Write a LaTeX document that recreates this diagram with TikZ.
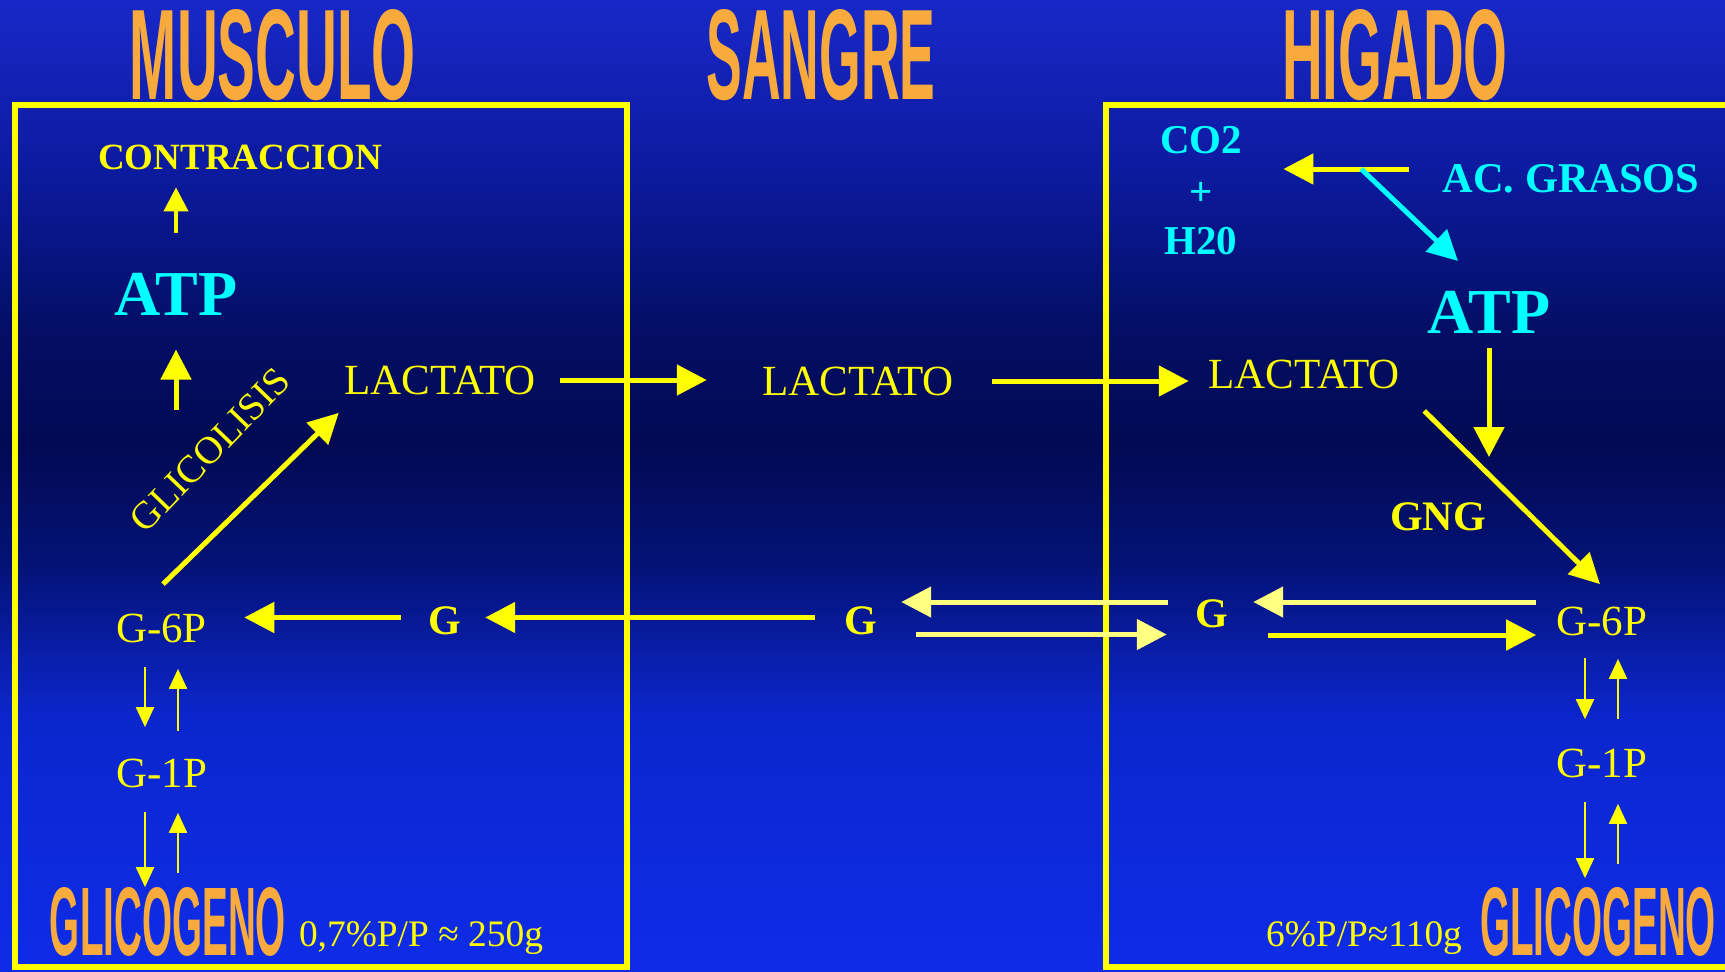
\documentclass[tikz,border=0pt]{standalone}
\usepackage{graphicx}
\usepackage{fontspec}
\setmainfont{Liberation Serif}
\newfontfamily\hdrfont{Liberation Sans}
\usetikzlibrary{arrows.meta,positioning}

\definecolor{bgtop}{RGB}{24,40,200}
\definecolor{bghigh}{RGB}{12,26,158}
\definecolor{bgupper}{RGB}{3,14,100}
\definecolor{bgmid}{RGB}{2,10,84}
\definecolor{bglower}{RGB}{4,18,118}
\definecolor{bglow}{RGB}{12,38,205}
\definecolor{bgbot}{RGB}{14,44,232}
\definecolor{amar}{RGB}{255,255,0}
\definecolor{amarclaro}{RGB}{255,255,128}
\definecolor{cian}{RGB}{0,255,255}
\definecolor{naranja}{RGB}{248,170,60}

\pgfdeclareverticalshading{fondo}{100bp}{color(0bp)=(bgbot); color(25bp)=(bgbot);
  color(38bp)=(bglow); color(46bp)=(bglower); color(52bp)=(bgmid); color(58bp)=(bgupper);
  color(66bp)=(bghigh); color(75bp)=(bgtop); color(100bp)=(bgtop)}

\begin{document}
\begin{tikzpicture}[x=0.5pt,y=-0.5pt,
  txt/.style={text=amar, inner sep=0pt, font=\fontsize{21.5pt}{24pt}\selectfont},
  btxt/.style={text=amar, inner sep=0pt, font=\fontsize{21pt}{24pt}\selectfont\bfseries},
  ctxt/.style={text=cian, inner sep=0pt, font=\fontsize{20.5pt}{24pt}\selectfont\bfseries},
  atp/.style={text=cian, inner sep=0pt, font=\fontsize{32pt}{36pt}\selectfont\bfseries},
  nota/.style={text=amar, inner sep=0pt, font=\fontsize{18.7pt}{22pt}\selectfont},
  titulo/.style={text=naranja, inner sep=0pt, font=\hdrfont\bfseries},
  organo/.style={draw=amar, line width=3pt},
  arr/.style={-{Triangle[length=15pt,width=15pt]}, line width=2.5pt, amar},
  sarr/.style={-{Triangle[length=12pt,width=12pt]}, line width=2pt, amar},
  tarr/.style={-{Triangle[length=10pt,width=9pt]}, line width=1pt, amar},
  carr/.style={arr, cian},
  larr/.style={arr, amarclaro}
]
\clip (0,0) rectangle (1725,971);
\shade[shading=fondo] (0,0) rectangle (1725,971);

\draw[organo] (15,105) rectangle (627,967);
\draw[organo] (1106,105) rectangle (1760,967);

\node[titulo] (musc) at (273,55) {\resizebox{143pt}{45pt}{MUSCULO}};
\node[titulo] (sang) at (821,55) {\resizebox{114.5pt}{45pt}{SANGRE}};
\node[titulo] (higa) at (1395,55) {\resizebox{112.75pt}{45pt}{HIGADO}};

% musculo
\node[btxt, font=\fontsize{18.5pt}{22pt}\selectfont\bfseries] (contr) at (240,157) {CONTRACCION};
\node[atp] (atpM) at (176,294) {ATP};
\node[txt, rotate=46, font=\fontsize{19.4pt}{22pt}\selectfont] (glic) at (210,450) {GLICOLISIS};
\node[txt] (lacM) at (440,380) {LACTATO};
\node[txt] (g6pM) at (161.5,628) {G-6P};
\node[btxt] (gM) at (445,621) {G};
\node[txt] (g1pM) at (162,773) {G-1P};
\node[titulo] (glM) at (168,922) {\resizebox{118pt}{34pt}{GLICOGENO}};
\node[nota] (pctM) at (421,938) {0,7\%P/P ≈ 250g};
\coordinate (glyATP) at (176,410);

% sangre
\node[txt] (lacS) at (858,381) {LACTATO};
\node[btxt] (gS) at (861,621) {G};

% higado
\node[ctxt] (co2) at (1201,140) {CO2};
\node[ctxt] (mas) at (1201,194) {+};
\node[ctxt] (h2o) at (1201,241) {H20};
\node[ctxt, font=\fontsize{21.2pt}{24pt}\selectfont\bfseries] (acg) at (1571,179) {AC. GRASOS};
\node[atp] (atpH) at (1489,312) {ATP};
\node[txt] (lacH) at (1304,374) {LACTATO};
\node[btxt] (gng) at (1438,517) {GNG};
\node[btxt] (gH) at (1212,614) {G};
\node[txt] (g6pH) at (1602,621) {G-6P};
\node[txt] (g1pH) at (1602,763) {G-1P};
\node[titulo] (glH) at (1598,922) {\resizebox{118pt}{34pt}{GLICOGENO}};
\node[nota] (pctH) at (1364,938) {6\%P/P≈110g};
\coordinate (rama) at ([xshift=-40.5pt,yshift=5pt]acg.west);
\coordinate (gngIn) at (1489,457);

\draw[sarr, shorten <=19.75pt, shorten >=8.75pt] (atpM.north) -- (atpM.north |- contr.south);
\draw[arr, shorten >=17pt] (glyATP) -- (atpM.south);
\draw[arr] ([xshift=0.75pt,yshift=14.5pt]g6pM.north) -- ([xshift=-2.5pt,yshift=-9pt]lacM.south west);

\draw[arr, shorten <=12pt, shorten >=27.5pt] (lacM.east) -- (lacM.east -| lacS.west);
\draw[arr, shorten <=19pt, shorten >=9.5pt] (lacS.east) -- (lacS.east -| lacH.west);

\draw[arr, shorten <=14.75pt, shorten >=11.75pt] ([yshift=1.75pt]gS.west) -- ([yshift=1.75pt]gM.east);
\draw[arr, shorten <=13.75pt, shorten >=18.5pt] ([yshift=1.75pt]gM.west) -- ([yshift=1.75pt]gM.west -| g6pM.east);
\draw[larr, shorten <=13.75pt, shorten >=11.75pt] ([yshift=6pt]gH.west) -- ([yshift=6pt]gH.west -| gS.east);
\draw[larr, shorten <=19.25pt, shorten >=14.25pt] ([yshift=-6.75pt]gS.east) -- ([yshift=-6.75pt]gS.east -| gH.west);
\draw[larr, shorten <=10pt, shorten >=12.25pt] ([yshift=9.5pt]g6pH.west) -- ([yshift=9.5pt]g6pH.west -| gH.east);
\draw[arr, shorten <=19.75pt, shorten >=10pt] ([yshift=-10.5pt]gH.east) -- ([yshift=-10.5pt]gH.east -| g6pH.west);

\draw[tarr, shorten <=12pt, shorten >=15.5pt] ([xshift=-8.25pt]g6pM.south) -- ([xshift=-8.25pt]g6pM.south |- g1pM.north);
\draw[tarr, shorten <=13.5pt, shorten >=13pt] ([xshift=8.25pt]g6pM.south |- g1pM.north) -- ([xshift=8.25pt]g6pM.south);
\draw[tarr, shorten <=12pt] ([xshift=-8.5pt]g1pM.south) -- ([xshift=-8.5pt]g1pM.south |- glM.north);
\draw[tarr, shorten <=7pt, shorten >=12.5pt] ([xshift=8pt]g1pM.south |- glM.north) -- ([xshift=8pt]g1pM.south);

\draw[tarr, shorten <=11pt, shorten >=14.5pt] ([xshift=-8.5pt]g6pH.south) -- ([xshift=-8.5pt]g6pH.south |- g1pH.north);
\draw[tarr, shorten <=14.5pt, shorten >=11.5pt] ([xshift=8pt]g6pH.south |- g1pH.north) -- ([xshift=8pt]g6pH.south);
\draw[tarr, shorten <=12pt, shorten >=4.5pt] ([xshift=-8.5pt]g1pH.south) -- ([xshift=-8.5pt]g1pH.south |- glH.north);
\draw[tarr, shorten <=11.5pt, shorten >=13pt] ([xshift=8pt]g1pH.south |- glH.north) -- ([xshift=8pt]g1pH.south);

\draw[arr, shorten <=16.5pt, shorten >=20.5pt] ([yshift=5pt]acg.west) -- ([yshift=5pt]acg.west -| co2.east);
\draw[carr, shorten >=21.4pt] (rama) -- (atpH.north);
\draw[arr, shorten <=7.25pt] (atpH.south) -- (gngIn);
\draw[arr] ([xshift=12pt,yshift=-11pt]lacH.south east) -- ([xshift=-1pt,yshift=11pt]g6pH.north);
\end{tikzpicture}
\end{document}
